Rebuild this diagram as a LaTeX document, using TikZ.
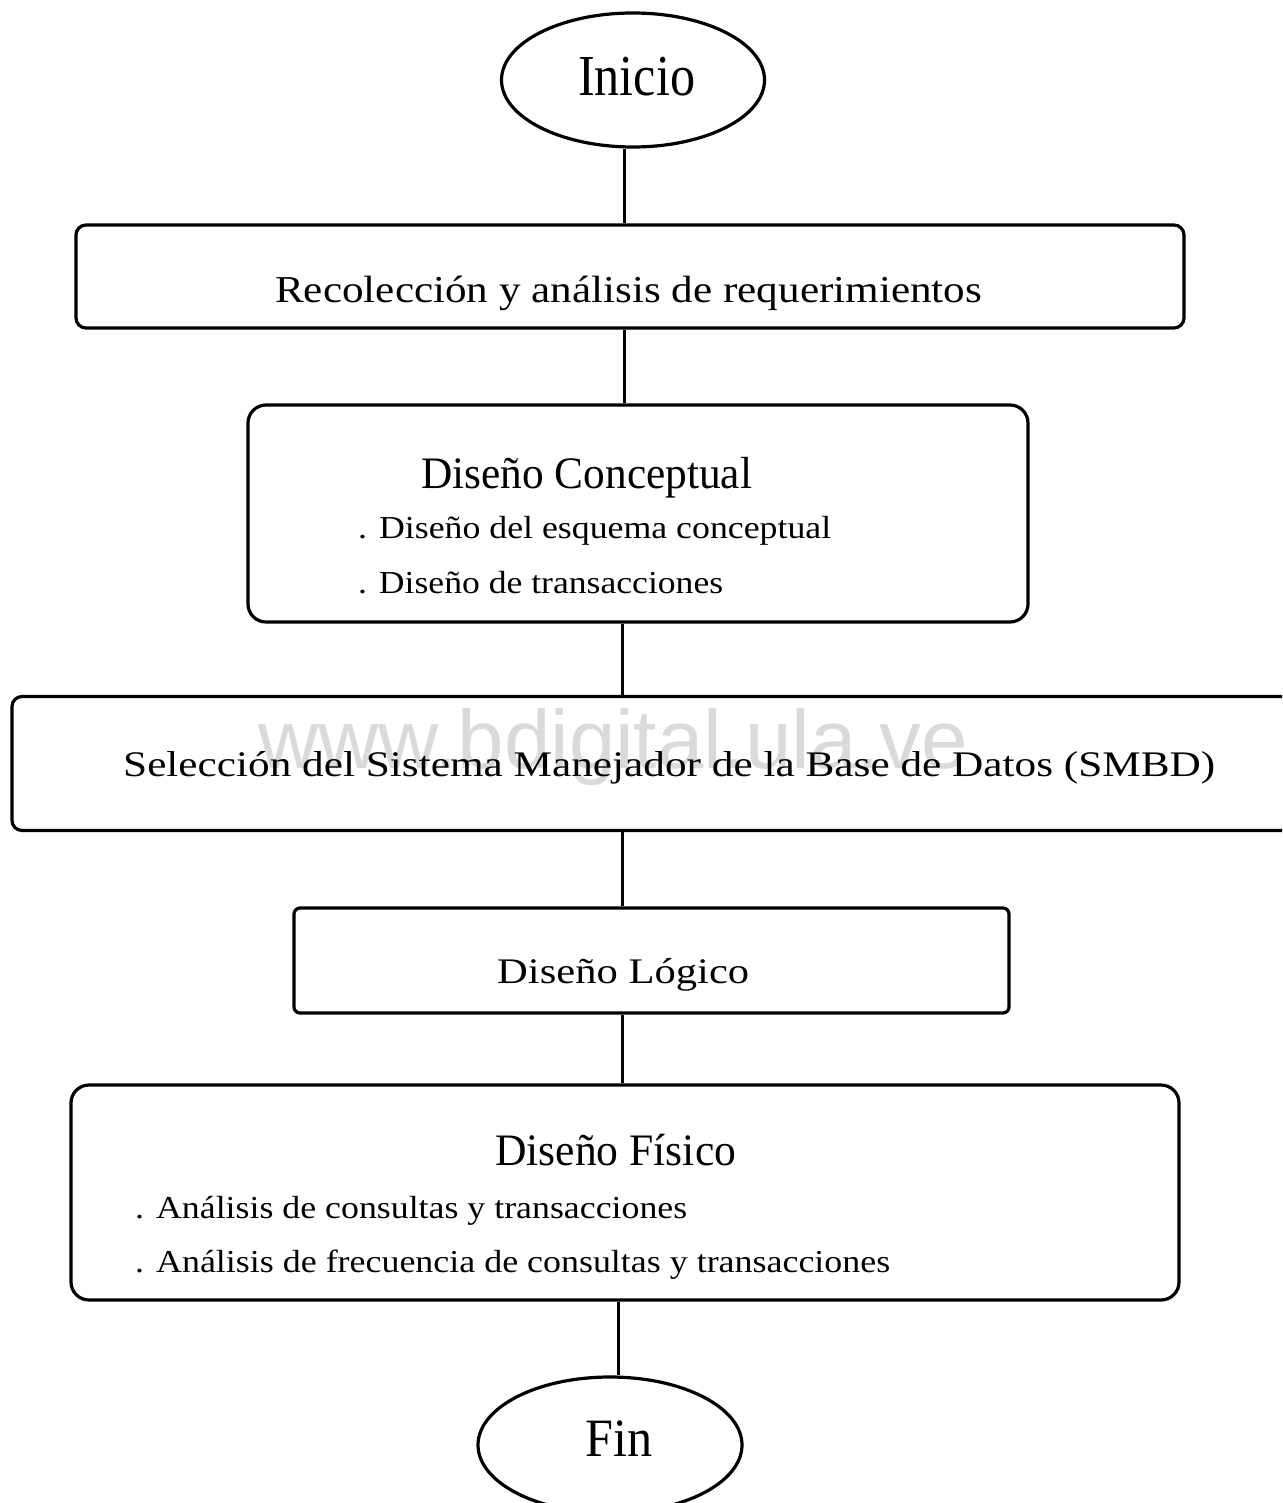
\documentclass[tikz,border=0pt]{standalone}
\usepackage{fontspec}
\setmainfont{Liberation Serif}
\newfontfamily\wmfont{Liberation Sans}
\usetikzlibrary{shapes.geometric}
\definecolor{wmgray}{HTML}{DADADA}
% text set at a given font size and squeezed/stretched to a given width
\newcommand\fitted[3]{\resizebox{#1pt}{\height}{\fontsize{#2}{#2}\selectfont #3}}
\tikzset{
  stepbox/.style={draw, line width=3.2pt, inner sep=0pt},
  endcap/.style={draw, ellipse, line width=3.2pt, inner sep=0pt},
  conn/.style={line width=3pt},
  lbl/.style={inner sep=0pt, anchor=base west},
}
\begin{document}
\begin{tikzpicture}[x=1pt, y=-1pt]
\useasboundingbox (0,0) rectangle (1282,1503);
\clip (0,0) rectangle (1282,1503);
\fill[white] (0,0) rectangle (1282,1503);

% watermark behind the third box
\node[lbl, text=wmgray] (wm) at (258,768) {\resizebox{710pt}{\height}{\wmfont\fontsize{83}{83}\selectfont www.bdigital.ula.ve}};

% start
\node[endcap, minimum width=263pt, minimum height=134pt] (ini) at (633,80) {};
\node[lbl] (iniT) at (578,96) {\fitted{117}{58}{Inicio}};

% requirements
\node[stepbox, rounded corners=10pt, minimum width=1108pt, minimum height=103pt] (req) at (630,276.5) {};
\node[lbl] (reqT) at (275,302) {\fitted{707}{38}{Recolección y análisis de requerimientos}};

% conceptual design
\node[stepbox, rounded corners=18pt, minimum width=780pt, minimum height=217pt] (con) at (638,513.5) {};
\node[lbl] (conT) at (421,488) {\fitted{331}{45}{Diseño Conceptual}};
\node[lbl] (conA) at (358,538) {\fitted{473}{32}{. Diseño del esquema conceptual}};
\node[lbl] (conB) at (358,593) {\fitted{365}{32}{. Diseño de transacciones}};

% DBMS selection (box runs past the right edge)
\node[stepbox, rounded corners=10pt, minimum width=1300pt, minimum height=134pt] (sel) at (662,763.5) {};
\node[lbl] (selT) at (123,776) {\fitted{1092}{36}{Selección del Sistema Manejador de la Base de Datos (SMBD)}};

% logical design
\node[stepbox, rounded corners=6pt, minimum width=715pt, minimum height=105pt] (log) at (651.5,960.5) {};
\node[lbl] (logT) at (497,983) {\fitted{252}{36}{Diseño Lógico}};

% physical design
\node[stepbox, rounded corners=18pt, minimum width=1108pt, minimum height=215pt] (fis) at (625,1192.5) {};
\node[lbl] (fisT) at (495,1165) {\fitted{241}{45}{Diseño Físico}};
\node[lbl] (fisA) at (135,1218) {\fitted{552}{32}{. Análisis de consultas y transacciones}};
\node[lbl] (fisB) at (135,1272) {\fitted{755}{32}{. Análisis de frecuencia de consultas y transacciones}};

% end
\node[endcap, minimum width=264pt, minimum height=136pt] (fin) at (610,1445) {};
\node[lbl] (finT) at (585,1456) {\fitted{67}{54}{Fin}};

% connectors
\draw[conn] (ini.south -| 624,0) -- (req.north -| 624,0);
\draw[conn] (req.south -| 624,0) -- (con.north -| 624,0);
\draw[conn] (con.south -| 622,0) -- (sel.north -| 622,0);
\draw[conn] (sel.south -| 622,0) -- (log.north -| 622,0);
\draw[conn] (log.south -| 622,0) -- (fis.north -| 622,0);
\draw[conn] (fis.south -| 618,0) -- (fin.north -| 618,0);
\end{tikzpicture}
\end{document}
